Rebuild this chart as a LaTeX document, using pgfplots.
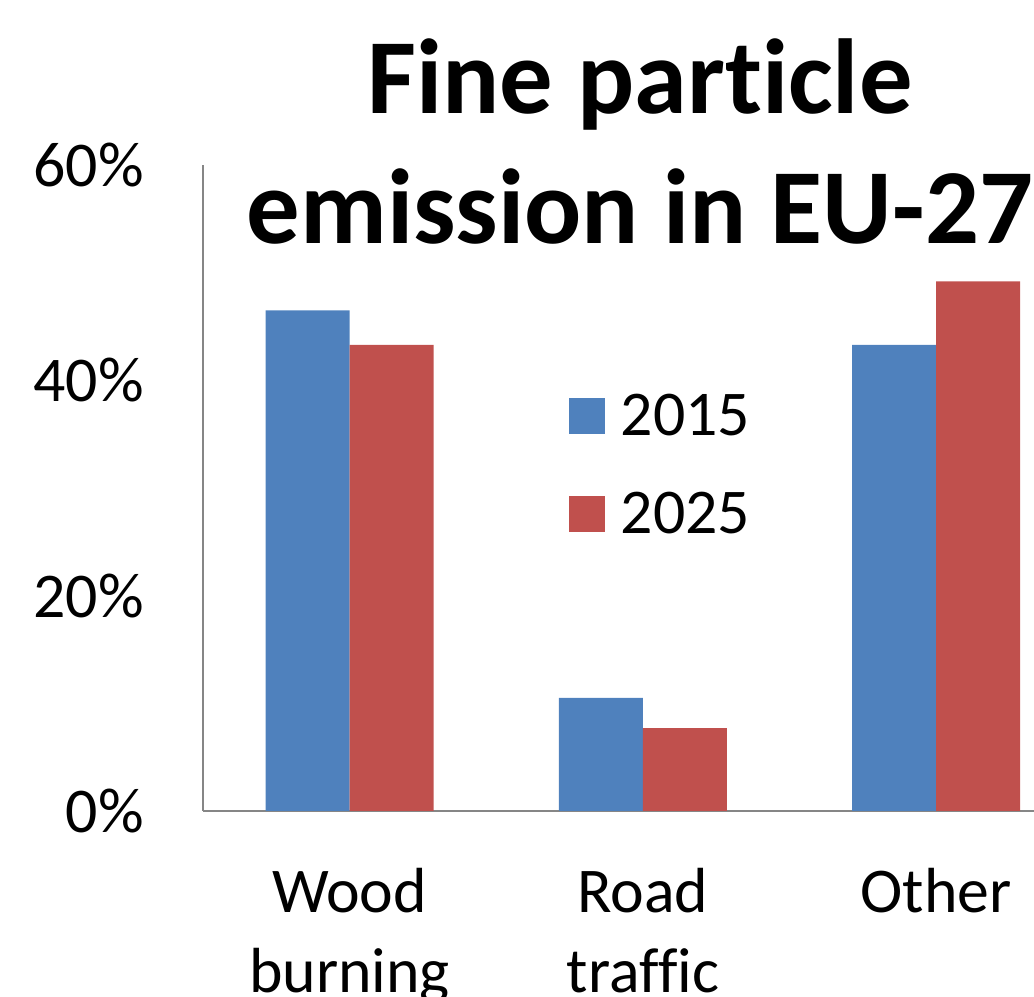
\documentclass[border=0pt]{standalone}
\usepackage{pgfplots}
\pgfplotsset{compat=1.18}
\usepackage{fontspec}
\setmainfont[Ligatures=NoCommon]{Carlito}
\definecolor{cblue}{HTML}{4F81BD}
\definecolor{cred}{HTML}{C0504D}
\definecolor{axgray}{HTML}{868686}
\begin{document}
\begin{tikzpicture}
\begin{axis}[
 at={(203bp,186bp)}, anchor=south west,
 scale only axis, width=837bp, height=646bp,
 xmin=-0.5, xmax=2.354, ymin=0, ymax=60,
 axis x line*=bottom, axis y line*=left,
 axis line style={draw=axgray, line width=1.5bp},
 ybar=0pt, bar width=84bp,
 xtick={0,1,2}, xticklabels={{Wood\\burning},{Road\\traffic},{Other}},
 ytick={0,20,40,60}, yticklabels={0\%,20\%,40\%,60\%},
 major tick length=0pt,
 tick label style={font=\fontsize{64}{80}\selectfont, inner sep=0pt},
 yticklabel style={anchor=east, xshift=-59bp},
 xticklabel style={align=center, anchor=north, yshift=-57bp},
 title={Fine particle\\emission in EU-27},
 title style={at={(rel axis cs:0.522,0.868)}, anchor=south, inner sep=0pt,
   font=\bfseries\fontsize{107}{130}\selectfont, align=center},
 legend image code/.code={\fill[#1] (0bp,-18bp) rectangle (36bp,18bp);},
 legend style={at={(rel axis cs:0.437,0.645)}, anchor=north west, draw=none, fill=none,
   inner sep=0pt, font=\fontsize{64}{78}\selectfont, row sep=55bp,
   nodes={inner sep=0pt},
   /tikz/every odd column/.append style={column sep=16bp}},
 legend cell align=left,
]
\addplot[fill=cblue, draw=none] coordinates {(0,46.5) (1,10.5) (2,43.3)};
\addplot[fill=cred, draw=none] coordinates {(0,43.3) (1,7.7) (2,49.2)};
\legend{2015,2025}
\end{axis}
\pgfresetboundingbox
\useasboundingbox (0,0) rectangle (1034bp,997bp);
\end{tikzpicture}
\end{document}
